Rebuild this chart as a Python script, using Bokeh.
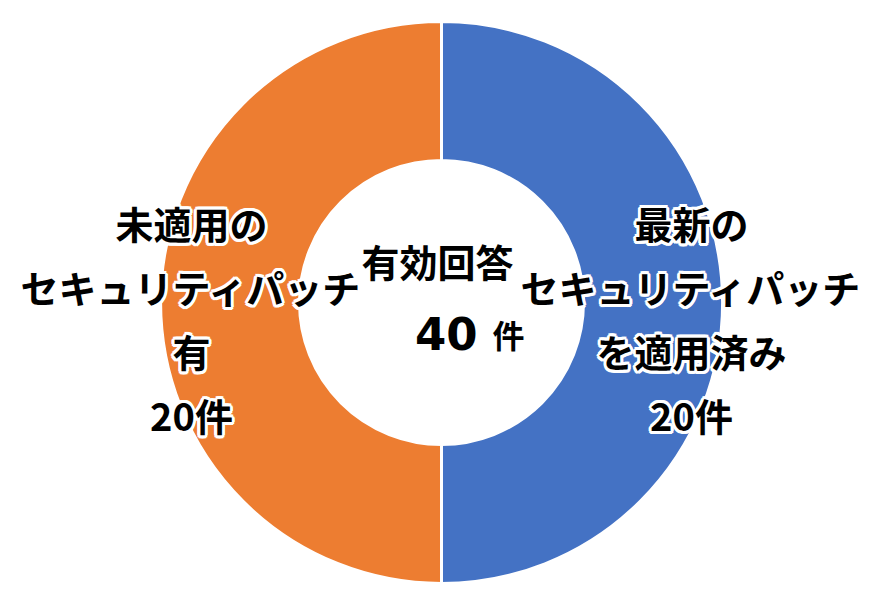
import math
from bokeh.plotting import figure
from bokeh.models import ColumnDataSource, Range1d
from bokeh.core.properties import value
from bokeh.embed import file_html
from bokeh.resources import INLINE

# ---- data ----
categories = ["最新のセキュリティパッチを適用済み", "未適用のセキュリティパッチ有"]
counts = [20, 20]
colors = ["#4472C4", "#ED7D31"]
label_lines = [
    ["最新の", "セキュリティパッチ", "を適用済み", "20件"],
    ["未適用の", "セキュリティパッチ", "有", "20件"],
]
center_title = "有効回答"
total = sum(counts)
total_label = str(total)
unit_label = "件"

W, H = 865, 591
CX, CY = 441, 302  # canvas position of donut center
R_OUT, R_IN = 281, 142

p = figure(width=W, height=H, output_backend="svg", toolbar_location=None,
           x_range=Range1d(-CX, W - CX), y_range=Range1d(-(H - CY), CY),
           min_border=0, outline_line_color=None, background_fill_color="white",
           border_fill_color="white")
p.axis.visible = False
p.grid.visible = False

# angles: start at top, go clockwise
ends, starts, mids = [], [], []
a = math.pi / 2
for c in counts:
    span = 2 * math.pi * c / total
    ends.append(a)
    starts.append(a - span)
    mids.append(a - span / 2)
    a -= span

src = ColumnDataSource(dict(start=starts, end=ends, color=colors, cat=categories))
p.annular_wedge(x=0, y=0, inner_radius=R_IN, outer_radius=R_OUT,
                start_angle="start", end_angle="end", fill_color="color",
                line_color="white", line_width=3, source=src)

# labels
FONT = value("Noto Sans CJK JP")
LABEL_R = 250
LINE_GAP = 64
xs, ys, txt = [], [], []
for mid, lines in zip(mids, label_lines):
    lx = LABEL_R * math.cos(mid)
    n = len(lines)
    top = -16 + LINE_GAP * (n - 1) / 2
    for i, t in enumerate(lines):
        xs.append(lx)
        ys.append(top - i * LINE_GAP)
        txt.append(t)

# white halo: copies offset around each label
hx, hy, ht, hox, hoy = [], [], [], [], []
HALO = 3
for k in range(12):
    ang = 2 * math.pi * k / 12
    for x, y, t in zip(xs, ys, txt):
        hx.append(x); hy.append(y); ht.append(t)
        hox.append(HALO * math.cos(ang)); hoy.append(HALO * math.sin(ang))
hsrc = ColumnDataSource(dict(x=hx, y=hy, text=ht, xo=hox, yo=hoy))
p.text(x="x", y="y", text="text", x_offset="xo", y_offset="yo", source=hsrc,
       text_font=FONT, text_font_size="38px", text_font_style="bold",
       text_color="white", text_align="center", text_baseline="middle")

lsrc = ColumnDataSource(dict(x=xs, y=ys, text=txt))
p.text(x="x", y="y", text="text", source=lsrc, text_font=FONT,
       text_font_size="38px", text_font_style="bold", text_color="black",
       text_align="center", text_baseline="middle")

# center
p.text(x=[-4], y=[42], text=[center_title], text_font=FONT, text_font_size="38px",
       text_font_style="bold", text_color="black", text_align="center",
       text_baseline="middle")
p.text(x=[36], y=[-31], text=[total_label], text_font=value("DejaVu Sans"),
       text_font_size="45px", text_font_style="bold", text_color="black",
       text_align="right", text_baseline="middle")
p.text(x=[51], y=[-31], text=[unit_label], text_font=FONT, text_font_size="32px",
       text_font_style="bold", text_color="black", text_align="left",
       text_baseline="middle")

open("out.html", "w").write(file_html(p, INLINE))
